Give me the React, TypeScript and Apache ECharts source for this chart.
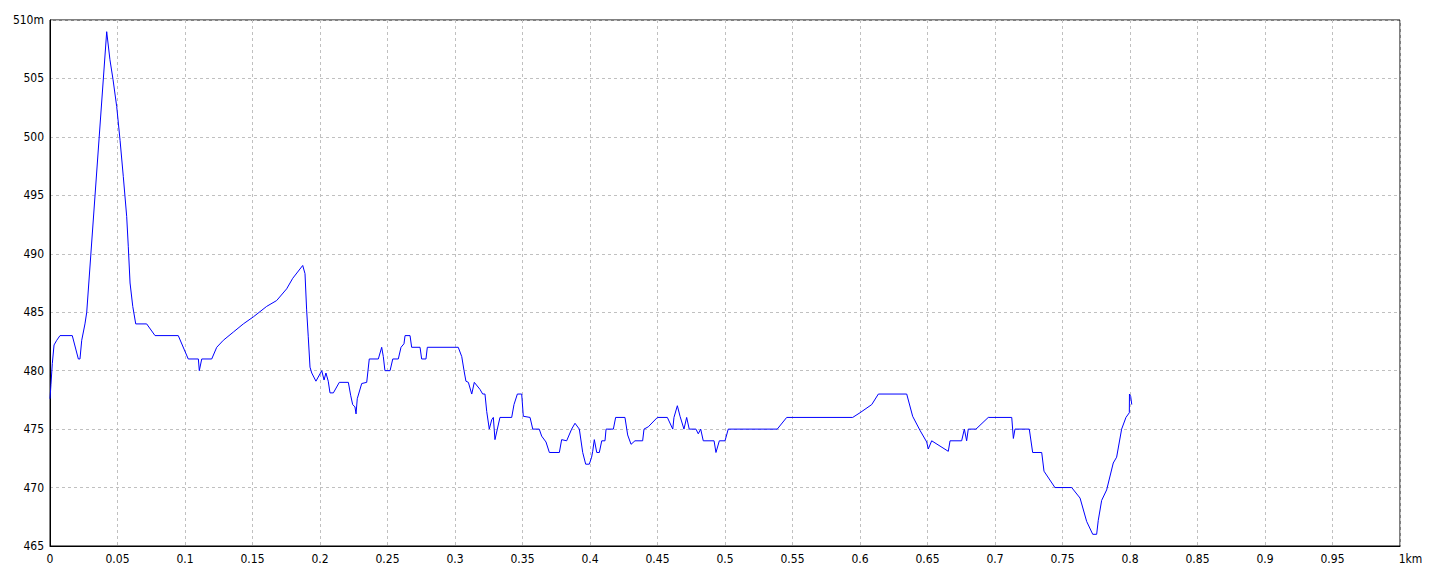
import React, { useEffect, useRef } from "react";
import * as echarts from "echarts";

const distanceKm = [
  0.0, 0.0007, 0.0017, 0.003, 0.005, 0.0074, 0.0165, 0.021, 0.0222, 0.0235, 0.0259, 0.0272,
  0.042, 0.0444, 0.0467, 0.0494, 0.0519, 0.0543, 0.0568, 0.058, 0.0593, 0.0613, 0.0635,
  0.0716, 0.0778, 0.095, 0.1024, 0.1099, 0.1106, 0.1124, 0.1198, 0.1235, 0.1284, 0.1358,
  0.1432, 0.1506, 0.1605, 0.1679, 0.1753, 0.1798, 0.1872, 0.1889, 0.1901, 0.1913, 0.1926,
  0.1939, 0.197, 0.2013, 0.203, 0.2044, 0.2061, 0.2074, 0.2099, 0.2143, 0.221, 0.2227,
  0.2242, 0.2259, 0.2267, 0.2276, 0.2309, 0.2346, 0.2365, 0.2432, 0.2457, 0.2469, 0.2481,
  0.2519, 0.2539, 0.258, 0.26, 0.2622, 0.263, 0.2667, 0.2679, 0.2741, 0.2753, 0.2785,
  0.2795, 0.3024, 0.305, 0.3067, 0.3081, 0.3099, 0.3124, 0.3143, 0.3185, 0.3205, 0.3222,
  0.3235, 0.3254, 0.3272, 0.3284, 0.3296, 0.3333, 0.342, 0.3437, 0.3462, 0.3494, 0.3506,
  0.3556, 0.3576, 0.3624, 0.3642, 0.3674, 0.3699, 0.3773, 0.379, 0.3827, 0.3864, 0.3889,
  0.3921, 0.3946, 0.3968, 0.3995, 0.4012, 0.402, 0.4032, 0.405, 0.4069, 0.4087, 0.4111,
  0.4119, 0.4173, 0.419, 0.4259, 0.4279, 0.4304, 0.4333, 0.439, 0.44, 0.4432, 0.4499,
  0.4573, 0.4613, 0.4622, 0.4647, 0.4667, 0.4696, 0.4716, 0.4735, 0.4785, 0.4802, 0.482,
  0.4839, 0.4919, 0.4933, 0.4958, 0.5, 0.5024, 0.5387, 0.5457, 0.5946, 0.6, 0.6087, 0.6136,
  0.6346, 0.639, 0.6444, 0.6494, 0.6506, 0.6531, 0.6654, 0.6667, 0.6753, 0.6773, 0.679,
  0.6802, 0.6859, 0.695, 0.7124, 0.7136, 0.7148, 0.7254, 0.7279, 0.7346, 0.7363, 0.7444,
  0.7568, 0.763, 0.7679, 0.7724, 0.7753, 0.7765, 0.779, 0.7827, 0.7876, 0.7901, 0.7938,
  0.797, 0.7995, 0.7996, 0.8005, 0.8013,
];

const elevationM = [
  477.6, 478.8, 480.6, 482.2, 482.6, 483.0, 483.0, 481.0, 481.0, 482.6, 484.0, 485.0,
  509.0, 506.6, 504.9, 502.6, 499.7, 496.6, 493.2, 490.6, 487.5, 485.5, 484.0,
  484.0, 483.0, 483.0, 481.0, 481.0, 480.0, 481.0, 481.0, 482.0, 482.6, 483.3,
  484.0, 484.6, 485.5, 486.0, 487.0, 487.9, 489.0, 488.3, 485.2, 482.9, 480.3,
  479.8, 479.1, 480.0, 479.2, 479.8, 479.1, 478.1, 478.1, 479.0, 479.0, 477.9,
  477.1, 476.9, 476.3, 477.6, 478.9, 479.0, 481.0, 481.0, 482.0, 481.2, 480.0,
  480.0, 481.0, 481.0, 482.0, 482.3, 483.0, 483.0, 482.0, 482.0, 481.0, 481.0,
  482.0, 482.0, 481.2, 480.0, 479.1, 479.0, 478.0, 479.0, 478.4, 478.0, 478.0,
  476.5, 475.0, 475.8, 476.0, 474.1, 476.0, 476.0, 477.1, 478.0, 478.0, 476.1,
  476.0, 475.0, 475.0, 474.4, 473.9, 473.0, 473.0, 474.1, 474.0, 475.0, 475.5,
  475.0, 473.0, 472.0, 472.0, 472.6, 473.1, 474.1, 473.0, 473.0, 474.0, 474.0,
  475.0, 475.0, 476.0, 476.0, 474.5, 473.7, 474.0, 474.0, 475.0, 475.2, 476.0,
  476.0, 475.0, 476.0, 477.0, 476.1, 475.0, 476.0, 475.0, 475.0, 474.6, 475.0,
  474.0, 474.0, 473.0, 474.0, 474.0, 475.0, 475.0, 476.0, 476.0, 476.4, 477.1, 478.0,
  478.0, 476.1, 474.9, 473.9, 473.3, 474.0, 473.1, 474.0, 474.0, 475.0, 474.0,
  475.0, 475.0, 476.0, 476.0, 474.2, 475.0, 475.0, 473.0, 473.0, 471.4, 470.0,
  470.0, 469.1, 467.1, 466.0, 466.0, 467.2, 468.9, 469.8, 472.1, 472.6, 475.0,
  476.0, 476.4, 478.0, 477.8, 477.1,
];

const xTicks = [0, 1];
const yTicks = [465, 510];

const FONT = "'Liberation Sans Narrow', 'DejaVu Sans Condensed', sans-serif";

export default function App() {
  const ref = useRef<HTMLDivElement>(null);
  useEffect(() => {
    document.body.style.margin = "0";
    if (!ref.current) return;
    const chart = echarts.init(ref.current, undefined, { renderer: "svg" });
    const data = distanceKm.map((d, i) => [d, elevationM[i]]);
    chart.setOption({
      animation: false,
      backgroundColor: "#ffffff",
      grid: {
        left: 50,
        right: 40,
        top: 20,
        bottom: 30,
        show: true,
        borderColor: "#000000",
        borderWidth: 1,
        backgroundColor: "transparent",
      },
      xAxis: {
        type: "value",
        min: xTicks[0],
        max: xTicks[1],
        interval: 0.05,
        axisLine: { show: true, lineStyle: { color: "#000", width: 1 } },
        axisTick: { show: false },
        splitLine: { show: true, lineStyle: { color: "#c0c0c0", type: [3, 3], width: 1 } },
        axisLabel: {
          color: "#000",
          fontFamily: FONT,
          fontSize: 12,
          margin: 7,
          showMaxLabel: true,
          formatter: (v: number) => {
            if (Math.abs(v - 1) < 1e-9) return "{s|}1km";
            return String(Math.round(v * 100) / 100);
          },
          rich: { s: { width: 21 } },
        },
      },
      yAxis: {
        type: "value",
        min: yTicks[0],
        max: yTicks[1],
        interval: 5,
        axisLine: { show: true, lineStyle: { color: "#000", width: 1 } },
        axisTick: { show: false },
        splitLine: { show: true, lineStyle: { color: "#c0c0c0", type: [3, 3], width: 1 } },
        axisLabel: {
          color: "#000",
          fontFamily: FONT,
          fontSize: 12,
          margin: 6,
          showMaxLabel: true,
          formatter: (v: number) => (v === yTicks[1] ? v + "m" : String(v)),
        },
      },
      series: [
        {
          type: "line",
          data,
          showSymbol: false,
          symbol: "none",
          lineStyle: { color: "#0000ff", width: 1 },
          z: 5,
        },
      ],
    });
    return () => chart.dispose();
  }, []);
  return <div ref={ref} style={{ width: 1440, height: 576 }} />;
}
